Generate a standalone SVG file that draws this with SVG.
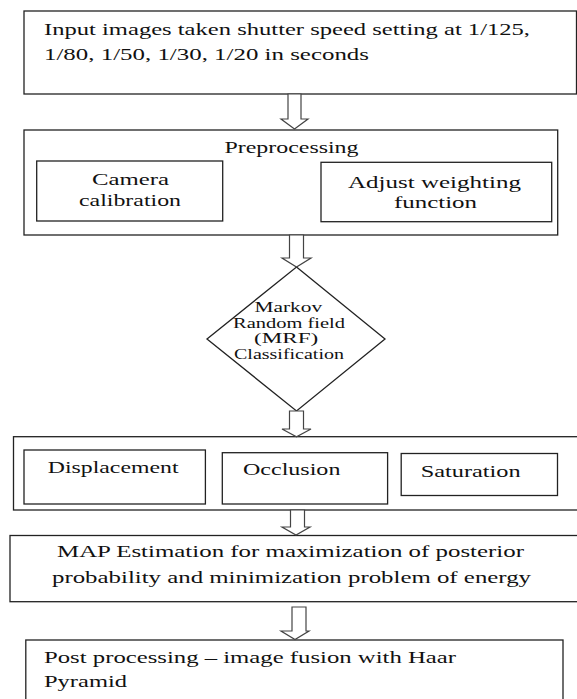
<svg xmlns="http://www.w3.org/2000/svg" width="577" height="699" viewBox="0 0 577 699">
<style>
.b{fill:#fff;stroke:#222;stroke-width:1.3}
.t{font-family:"Liberation Serif","DejaVu Serif","Times New Roman",serif;font-size:17px;fill:#111}
.d{font-family:"Liberation Serif","DejaVu Serif","Times New Roman",serif;font-size:14.7px;fill:#111}
.a{fill:#fff;stroke:#444;stroke-width:1.2;stroke-linejoin:miter}
</style>
<rect width="577" height="699" fill="#fff"/>
<g id="input">
<rect class="b" x="24" y="11" width="552.5" height="83"/>
<text class="t" x="44" y="35" textLength="486" lengthAdjust="spacingAndGlyphs">Input images taken shutter speed setting at 1/125,</text>
<text class="t" x="44" y="60" textLength="325" lengthAdjust="spacingAndGlyphs">1/80, 1/50, 1/30, 1/20 in seconds</text>
</g>
<g id="preprocessing">
<rect class="b" x="24" y="130" width="533.7" height="105"/>
<text class="t" x="224.5" y="153" textLength="134" lengthAdjust="spacingAndGlyphs">Preprocessing</text>
</g>
<g id="camera">
<rect class="b" x="36.7" y="161" width="186" height="60"/>
<text class="t" x="92" y="185" textLength="77" lengthAdjust="spacingAndGlyphs">Camera</text>
<text class="t" x="79" y="206" textLength="102" lengthAdjust="spacingAndGlyphs">calibration</text>
</g>
<g id="weighting">
<rect class="b" x="321" y="162.3" width="230.7" height="59.4"/>
<text class="t" x="348" y="188" textLength="173" lengthAdjust="spacingAndGlyphs">Adjust weighting</text>
<text class="t" x="394" y="208" textLength="83" lengthAdjust="spacingAndGlyphs">function</text>
</g>
<g id="mrf">
<polygon class="b" points="296.5,267 385,339 296.5,411 207,339"/>
<text class="d" x="254.5" y="311.7" textLength="67.7" lengthAdjust="spacingAndGlyphs">Markov</text>
<text class="d" x="233" y="327.7" textLength="112" lengthAdjust="spacingAndGlyphs">Random field</text>
<text class="d" x="254" y="343.3" textLength="64.3" lengthAdjust="spacingAndGlyphs">(MRF)</text>
<text class="d" x="234" y="359.3" textLength="110" lengthAdjust="spacingAndGlyphs">Classification</text>
</g>
<g id="classes">
<rect class="b" x="13.5" y="436.7" width="570" height="73.3"/>
</g>
<g id="displacement">
<rect class="b" x="24" y="450" width="181.4" height="54"/>
<text class="t" x="47.8" y="473.3" textLength="130.7" lengthAdjust="spacingAndGlyphs">Displacement</text>
</g>
<g id="occlusion">
<rect class="b" x="222.3" y="452.7" width="165.3" height="51.3"/>
<text class="t" x="243" y="475" textLength="97.4" lengthAdjust="spacingAndGlyphs">Occlusion</text>
</g>
<g id="saturation">
<rect class="b" x="401.2" y="453.5" width="156.3" height="42"/>
<text class="t" x="420.7" y="476.7" textLength="100" lengthAdjust="spacingAndGlyphs">Saturation</text>
</g>
<g id="map">
<rect class="b" x="10" y="535.5" width="575" height="66.2"/>
<text class="t" x="57" y="556.7" textLength="467" lengthAdjust="spacingAndGlyphs">MAP Estimation for maximization of posterior</text>
<text class="t" x="52" y="583.3" textLength="479" lengthAdjust="spacingAndGlyphs">probability and minimization problem  of energy</text>
</g>
<g id="postprocessing">
<rect class="b" x="25.8" y="640" width="537.2" height="70"/>
<text class="t" x="44" y="663.3" textLength="412" lengthAdjust="spacingAndGlyphs">Post processing – image fusion with Haar</text>
<text class="t" x="44" y="687.3" textLength="83" lengthAdjust="spacingAndGlyphs">Pyramid</text>
</g>
<g id="connectors">
<polygon class="a" points="288,94 301,94 301,119 308,119 294.5,129 281,119 288,119"/>
<polygon class="a" points="289.5,235 303.5,235 303.5,258 311,258 296.5,267 282,258 289.5,258"/>
<polygon class="a" points="289.5,411 303.5,411 303.5,429 311,429 296.5,436.7 282,429 289.5,429"/>
<polygon class="a" points="290.5,510 304.5,510 304.5,527 310,527 296,535 282,527 290.5,527"/>
<polygon class="a" points="292,607 306,607 306,631 309,631 295,639.5 281,631 292,631"/>
</g>
</svg>
